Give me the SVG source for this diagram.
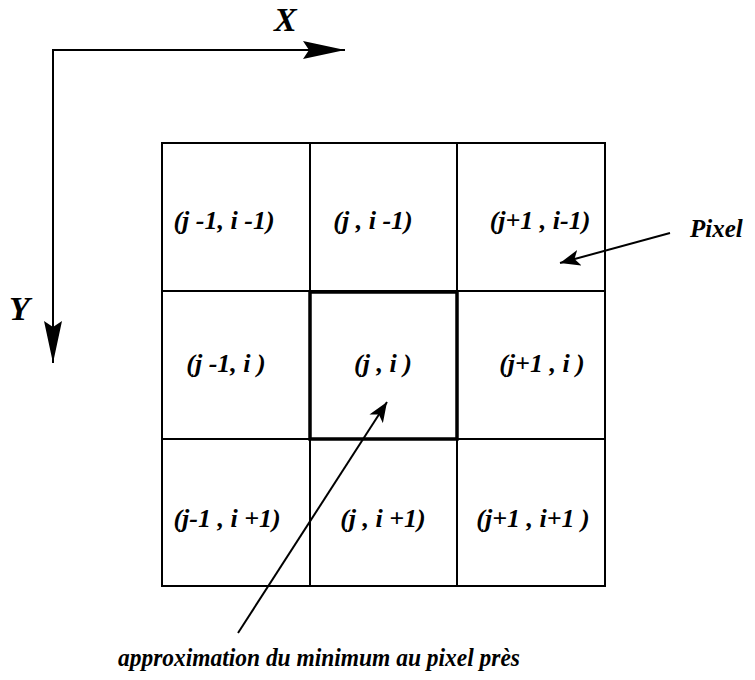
<svg xmlns="http://www.w3.org/2000/svg" width="755" height="680" viewBox="0 0 755 680">
<style>
text{font-family:"Liberation Serif","Times New Roman",serif;font-style:italic;font-weight:bold;fill:#000}
.cell{font-size:26px;text-anchor:middle}
.axis{font-size:34px}
.lbl{font-size:25px}
.grid{fill:none;stroke:#000;stroke-width:2}
.line{fill:none;stroke:#000;stroke-width:2}
</style>
<defs>
<marker id="ah" viewBox="0 0 20 16" refX="20" refY="8" markerWidth="20" markerHeight="16" markerUnits="userSpaceOnUse" orient="auto">
<path d="M0,0 L20,8 L0,16 L5,8 Z" fill="#000"/>
</marker>
<marker id="big" viewBox="0 0 42 18" refX="42" refY="9" markerWidth="42" markerHeight="18" markerUnits="userSpaceOnUse" orient="auto">
<path d="M0,0 L42,9 L0,18 L6,9 Z" fill="#000"/>
</marker>
</defs>
<g id="axes">
<path class="line" d="M53,363 V50 H345" stroke-width="3" marker-end="url(#big)"/>
<path class="line" d="M53,60 V363" stroke-width="3" marker-end="url(#big)"/>
<text class="axis" x="274" y="31">X</text>
<text class="axis" x="9" y="320">Y</text>
</g>
<g id="grid">
<rect class="grid" x="162" y="143" width="443" height="443"/>
<line class="grid" x1="310" y1="143" x2="310" y2="586"/>
<line class="grid" x1="457" y1="143" x2="457" y2="586"/>
<line class="grid" x1="162" y1="291" x2="605" y2="291"/>
<line class="grid" x1="162" y1="439" x2="605" y2="439"/>
</g>
<g id="c00"><text class="cell" x="224" y="229">(j -1, i -1)</text></g>
<g id="c01"><text class="cell" x="373" y="229">(j , i -1)</text></g>
<g id="c02"><text class="cell" x="540" y="229">(j+1 , i-1)</text></g>
<g id="c10"><text class="cell" x="226" y="372">(j -1, i )</text></g>
<g id="c11">
<rect x="310" y="292" width="147" height="147" fill="none" stroke="#000" stroke-width="3.5"/>
<text class="cell" x="383" y="372">(j , i )</text>
</g>
<g id="c12"><text class="cell" x="542" y="372">(j+1 , i )</text></g>
<g id="c20"><text class="cell" x="227" y="527">(j-1 , i +1)</text></g>
<g id="c21"><text class="cell" x="383" y="527">(j , i +1)</text></g>
<g id="c22"><text class="cell" x="533" y="527">(j+1 , i+1 )</text></g>
<g id="labels">
<text class="lbl" x="690" y="237" font-size="27">Pixel</text>
<text class="lbl" x="118" y="666" textLength="402" lengthAdjust="spacingAndGlyphs">approximation du minimum au pixel près</text>
</g>
<g id="connectors">
<line class="line" x1="670" y1="233" x2="560" y2="263" marker-end="url(#ah)"/>
<line class="line" x1="238" y1="633" x2="387" y2="402" marker-end="url(#ah)"/>
</g>
</svg>
